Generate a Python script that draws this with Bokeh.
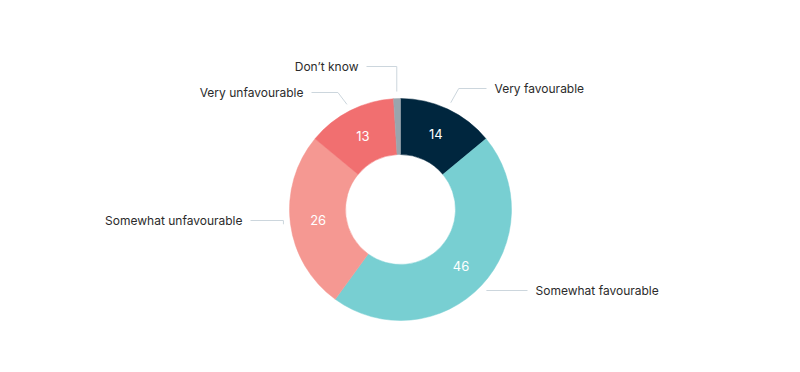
import numpy as np
from bokeh.plotting import figure
from bokeh.models import ColumnDataSource, Range1d
from bokeh.embed import file_html
from bokeh.resources import INLINE
from bokeh.core.properties import value

# ---- data ----
categories = ["Very favourable", "Somewhat favourable", "Somewhat unfavourable",
              "Very unfavourable", "Don\u2019t know"]
values = [14, 46, 26, 13, 1]
colors = ["#00263e", "#78cfd2", "#f59892", "#f16f70", "#9aa5ad"]

# ---- layout (pixels, relative to the pie centre) ----
R_OUT, R_IN = 111, 55
label_pos = [(94, 121, "left", 8), (135, -81, "left", 0), (-158, -11, "right", 0),
             (-97, 117, "right", -9), (-42, 143, "right", 0)]
GAP = 8
FONT = "Inter"

W, H = 784, 356
p = figure(width=W, height=H, x_range=Range1d(-400, 384), y_range=Range1d(-147, 209),
           output_backend="svg", toolbar_location=None, min_border=0)
p.axis.visible = False
p.grid.visible = False
p.outline_line_color = None
p.background_fill_color = "white"

frac = np.array(values, dtype=float) / sum(values)
cum = np.concatenate([[0.0], np.cumsum(frac)])
start = np.pi / 2 - 2 * np.pi * cum[:-1]
end = np.pi / 2 - 2 * np.pi * cum[1:]
mid = (start + end) / 2

src = ColumnDataSource(dict(start=start, end=end, color=colors, cat=categories, val=values))
p.annular_wedge(x=0, y=0, inner_radius=R_IN, outer_radius=R_OUT,
                start_angle="start", end_angle="end", direction="clock",
                fill_color="color", line_color="color", line_width=0.5, source=src)

# value labels inside the ring
rm = (R_OUT + R_IN) / 2
vx, vy, vt = [], [], []
for v, a in zip(values, mid):
    if v >= 5:
        vx.append(rm * np.cos(a)); vy.append(rm * np.sin(a)); vt.append(str(v))
p.text(x=vx, y=vy, text=vt, text_color="white", text_font=value(FONT),
       text_font_size="13px", text_align="center", text_baseline="middle")

# outside labels with connectors
for cat, a, (tx, ty, align, crook) in zip(categories, mid, label_pos):
    touch_x = (R_OUT + 7) * np.cos(a)
    touch_y = (R_OUT + 7) * np.sin(a)
    end_x = tx - GAP if align == "left" else tx + GAP
    xs = [touch_x, touch_x + crook, end_x]
    ys = [touch_y, ty, ty]
    p.line(xs, ys, line_color="#ccd6dd", line_width=1)
    p.text(x=[tx], y=[ty], text=[cat], text_color="#2b2b2b", text_font=value(FONT),
           text_font_size="12px", text_align=align, text_baseline="middle")

open("out.html", "w").write(file_html(p, INLINE))
